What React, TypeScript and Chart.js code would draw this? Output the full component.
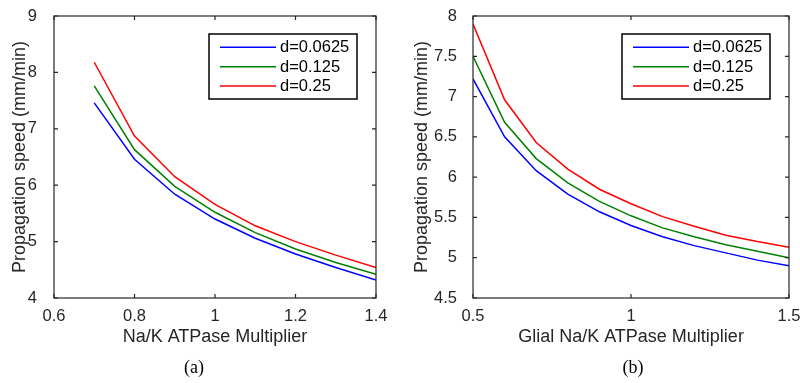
import React, { useEffect, useRef } from 'react';
import { Chart, registerables } from 'chart.js';

Chart.register(...registerables);

// ---- data ----
const seriesLabels = ['d=0.0625', 'd=0.125', 'd=0.25'];
const seriesColors = ['#0000ff', '#008000', '#ff0000'];

// Panel (a)
const xA = [0.7, 0.8, 0.9, 1.0, 1.1, 1.2, 1.3, 1.4];
const blueA = [7.46, 6.46, 5.84, 5.40, 5.06, 4.78, 4.54, 4.32];
const greenA = [7.76, 6.63, 5.98, 5.52, 5.16, 4.87, 4.63, 4.42];
const redA = [8.18, 6.87, 6.15, 5.66, 5.28, 5.00, 4.76, 4.54];
const xTicksA = [0.6, 0.8, 1, 1.2, 1.4];
const yTicksA = [4, 5, 6, 7, 8, 9];

// Panel (b)
const xB = [0.5, 0.6, 0.7, 0.8, 0.9, 1.0, 1.1, 1.2, 1.3, 1.4, 1.5];
const blueB = [7.22, 6.50, 6.08, 5.79, 5.57, 5.40, 5.26, 5.15, 5.06, 4.97, 4.90];
const greenB = [7.50, 6.68, 6.23, 5.93, 5.70, 5.52, 5.37, 5.26, 5.16, 5.08, 5.00];
const redB = [7.90, 6.96, 6.43, 6.10, 5.85, 5.67, 5.51, 5.39, 5.28, 5.20, 5.13];
const xTicksB = [0.5, 1, 1.5];
const yTicksB = [4.5, 5, 5.5, 6, 6.5, 7, 7.5, 8];

const FONT = '"Liberation Sans", Arial, Helvetica, sans-serif';
const AXIS_COLOR = '#262626';
const W = 400;
const H = 383;

type Area = { left: number; right: number; top: number; bottom: number };

type PanelProps = {
  xs: number[];
  series: number[][];
  xTicks: number[];
  yTicks: number[];
  xTitle: string;
  yTitle: string;
  area: Area;
  yTitleX: number;
  yPad: number;
};

function Panel(props: PanelProps) {
  const ref = useRef<HTMLCanvasElement | null>(null);

  useEffect(() => {
    const { xs, series, xTicks, yTicks, xTitle, yTitle, area, yTitleX, yPad } = props;
    const canvas = ref.current;
    if (!canvas) return;

    const decor = {
      id: 'matlabDecor',
      afterDraw(chart: any) {
        const ctx = chart.ctx;
        const ca = chart.chartArea;
        const xs_ = chart.scales.x;
        const ys_ = chart.scales.y;
        ctx.save();
        // box
        ctx.strokeStyle = AXIS_COLOR;
        ctx.lineWidth = 1.2;
        ctx.strokeRect(ca.left, ca.top, ca.right - ca.left, ca.bottom - ca.top);
        // inward ticks
        const tl = 4;
        ctx.beginPath();
        xTicks.forEach((v) => {
          const px = xs_.getPixelForValue(v);
          ctx.moveTo(px, ca.bottom);
          ctx.lineTo(px, ca.bottom - tl);
          ctx.moveTo(px, ca.top);
          ctx.lineTo(px, ca.top + tl);
        });
        yTicks.forEach((v) => {
          const py = ys_.getPixelForValue(v);
          ctx.moveTo(ca.left, py);
          ctx.lineTo(ca.left + tl, py);
          ctx.moveTo(ca.right, py);
          ctx.lineTo(ca.right - tl, py);
        });
        ctx.stroke();

        // axis titles
        ctx.fillStyle = AXIS_COLOR;
        ctx.font = `18px ${FONT}`;
        ctx.textAlign = 'center';
        ctx.textBaseline = 'middle';
        ctx.fillText(xTitle, (ca.left + ca.right) / 2, 337);
        ctx.save();
        ctx.translate(yTitleX, (ca.top + ca.bottom) / 2);
        ctx.rotate(-Math.PI / 2);
        ctx.fillText(yTitle, 0, 0);
        ctx.restore();

        // legend
        const bw = 148;
        const bh = 65;
        const bx = ca.right - 19 - bw;
        const by = ca.top + 18;
        ctx.fillStyle = '#ffffff';
        ctx.fillRect(bx, by, bw, bh);
        ctx.strokeStyle = '#000000';
        ctx.lineWidth = 1.5;
        ctx.strokeRect(bx, by, bw, bh);
        ctx.font = `16.5px ${FONT}`;
        ctx.textAlign = 'left';
        ctx.textBaseline = 'middle';
        chart.data.datasets.forEach((ds: any, i: number) => {
          const yy = by + 13.3 + i * 19.4;
          ctx.strokeStyle = ds.borderColor;
          ctx.lineWidth = 1.5;
          ctx.beginPath();
          ctx.moveTo(bx + 11, yy);
          ctx.lineTo(bx + 67, yy);
          ctx.stroke();
          ctx.fillStyle = '#000000';
          ctx.fillText(ds.label, bx + 71, yy + 0.5);
        });
        ctx.restore();
      },
    };

    const chart = new Chart(canvas, {
      type: 'line',
      data: {
        datasets: series.map((vals, i) => ({
          label: seriesLabels[i],
          data: xs.map((x, j) => ({ x, y: vals[j] })),
          borderColor: seriesColors[i],
          backgroundColor: seriesColors[i],
          borderWidth: 1.5,
          pointRadius: 0,
          tension: 0,
          fill: false,
        })),
      },
      options: {
        responsive: false,
        animation: false,
        events: [],
        layout: { padding: { left: 0, right: W - area.right, top: area.top, bottom: 0 } },
        plugins: { legend: { display: false }, tooltip: { enabled: false } },
        scales: {
          x: {
            type: 'linear',
            min: xTicks[0],
            max: xTicks[xTicks.length - 1],
            afterBuildTicks: (s: any) => {
              s.ticks = xTicks.map((v) => ({ value: v }));
            },
            afterFit: (s: any) => {
              s.height = H - area.bottom;
              s.paddingLeft = 0;
              s.paddingRight = 0;
            },
            grid: { display: false },
            border: { display: false },
            ticks: {
              autoSkip: false,
              maxRotation: 0,
              padding: 1,
              color: AXIS_COLOR,
              font: { family: FONT, size: 16.5 },
              callback: (v: any) => String(v),
            },
          },
          y: {
            type: 'linear',
            min: yTicks[0],
            max: yTicks[yTicks.length - 1],
            afterBuildTicks: (s: any) => {
              s.ticks = yTicks.map((v) => ({ value: v }));
            },
            afterFit: (s: any) => {
              s.width = area.left;
              s.paddingTop = 0;
              s.paddingBottom = 0;
            },
            grid: { display: false },
            border: { display: false },
            ticks: {
              autoSkip: false,
              padding: yPad,
              color: AXIS_COLOR,
              font: { family: FONT, size: 16.5 },
              callback: (v: any) => String(v),
            },
          },
        },
      },
      plugins: [decor],
    } as any);

    return () => chart.destroy();
  }, []);

  return <canvas ref={ref} width={W} height={H} style={{ width: W, height: H, display: 'block' }} />;
}

const captionStyle: React.CSSProperties = {
  position: 'absolute',
  top: 356,
  fontFamily: '"Liberation Serif", "DejaVu Serif", serif',
  fontSize: 18,
  lineHeight: '22px',
  color: '#000',
  transform: 'translateX(-50%)',
  whiteSpace: 'nowrap',
};

export default function App() {
  return (
    <div
      style={{
        position: 'fixed',
        left: 0,
        top: 0,
        width: 800,
        height: 383,
        background: '#ffffff',
        overflow: 'hidden',
      }}
    >
      <div style={{ position: 'absolute', left: 0, top: 0 }}>
        <Panel
          xs={xA}
          series={[blueA, greenA, redA]}
          xTicks={xTicksA}
          yTicks={yTicksA}
          xTitle="Na/K ATPase Multiplier"
          yTitle="Propagation speed (mm/min)"
          area={{ left: 54, right: 376, top: 16, bottom: 298 }}
          yTitleX={20}
          yPad={9}
        />
      </div>
      <div style={{ position: 'absolute', left: 400, top: 0 }}>
        <Panel
          xs={xB}
          series={[blueB, greenB, redB]}
          xTicks={xTicksB}
          yTicks={yTicksB}
          xTitle="Glial Na/K ATPase Multiplier"
          yTitle="Propagation speed (mm/min)"
          area={{ left: 73, right: 389, top: 16, bottom: 298 }}
          yTitleX={22}
          yPad={8}
        />
      </div>
      <div style={{ ...captionStyle, left: 194 }}>(a)</div>
      <div style={{ ...captionStyle, left: 633 }}>(b)</div>
    </div>
  );
}
